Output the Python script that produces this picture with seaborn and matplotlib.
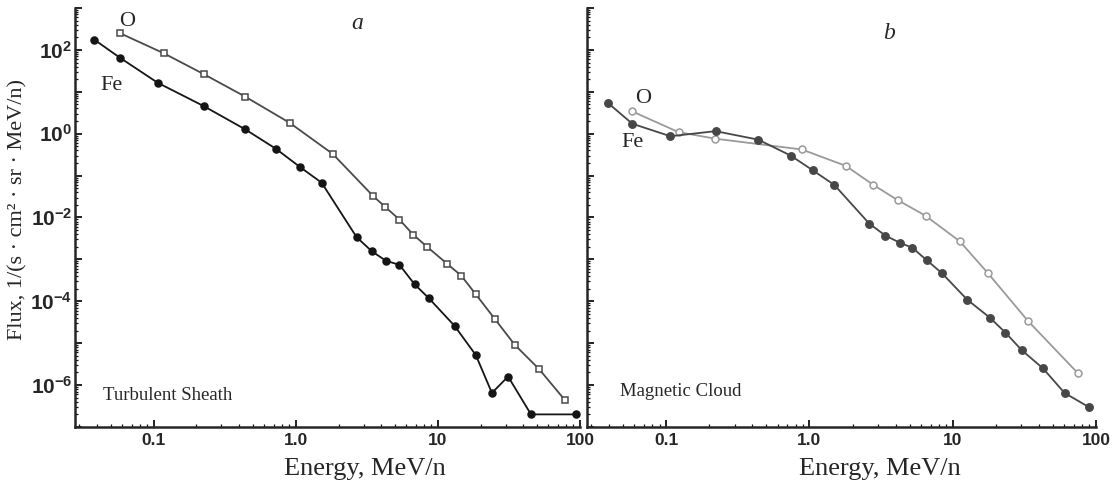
import numpy as np
import pandas as pd
import matplotlib
matplotlib.use('Agg')
import matplotlib.pyplot as plt
import matplotlib.ticker as mticker
import seaborn as sns

# energie (MeV/n) si flux
sheath_o_energy = [0.058, 0.118, 0.225, 0.443, 0.906, 1.82, 3.52, 4.27, 5.37, 6.70, 8.40,
                   11.6, 14.6, 18.4, 25.3, 34.8, 51.6, 78.7]
sheath_o_flux = [251, 83, 26.5, 7.6, 1.82, 0.33, 0.032, 0.0178, 0.0089, 0.0039, 0.0020,
                 7.9e-4, 4.1e-4, 1.5e-4, 3.7e-5, 9.1e-6, 2.4e-6, 4.3e-7]

sheath_fe_energy = [0.0384, 0.058, 0.107, 0.225, 0.443, 0.726, 1.08, 1.52, 2.68, 3.44, 4.31,
                    5.37, 6.85, 8.65, 13.1, 18.5, 24.0, 31.2, 45.2, 94]
sheath_fe_flux = [174, 65, 16.4, 4.57, 1.26, 0.436, 0.157, 0.068, 0.0034, 0.00155, 9.3e-4,
                  7.4e-4, 2.56e-4, 1.18e-4, 2.6e-5, 5.2e-6, 6.5e-7, 1.6e-6, 2.0e-7, 2.0e-7]

cloud_o_energy = [0.058, 0.122, 0.22, 0.885, 1.8, 2.79, 4.13, 6.46, 11.2, 17.6, 33.5, 75]
cloud_o_flux = [3.4, 1.09, 0.76, 0.42, 0.17, 0.060, 0.026, 0.011, 0.0027, 4.7e-4, 3.4e-5, 1.9e-6]

cloud_fe_energy = [0.039, 0.058, 0.107, 0.221, 0.44, 0.74, 1.05, 1.49, 2.62, 3.39, 4.27,
                   5.22, 6.6, 8.4, 12.6, 18.1, 23.3, 30.2, 42.7, 60.3, 89]
cloud_fe_flux = [5.5, 1.73, 0.87, 1.15, 0.72, 0.30, 0.135, 0.060, 0.0071, 0.0037, 0.0025,
                 0.0019, 9.5e-4, 4.7e-4, 1.1e-4, 4.1e-5, 1.8e-5, 6.9e-6, 2.5e-6, 6.5e-7, 3.0e-7]

x_ticks = [0.1, 1.0, 10, 100]
x_tick_labels = ['0.1', '1.0', '10', '100']

sns.set_style('ticks')
plt.rcParams['font.family'] = ['Liberation Serif', 'DejaVu Serif']
plt.rcParams['mathtext.fontset'] = 'custom'
plt.rcParams['mathtext.rm'] = 'Liberation Sans'
plt.rcParams['mathtext.bf'] = 'Liberation Sans:bold'

fig = plt.figure(figsize=(11.15, 4.86), dpi=100)
ax1 = fig.add_axes([75 / 1115, 59 / 486, 505 / 1115, 419 / 486])
ax2 = fig.add_axes([587 / 1115, 59 / 486, 509 / 1115, 419 / 486])

series = [
    (ax1, sheath_o_energy, sheath_o_flux, '#4a4a4a', 's', 'white', 4.3),
    (ax1, sheath_fe_energy, sheath_fe_flux, '#151515', 'o', '#151515', 5),
    (ax2, cloud_o_energy, cloud_o_flux, '#9a9a9a', 'o', 'white', 5),
    (ax2, cloud_fe_energy, cloud_fe_flux, '#474747', 'o', '#474747', 5.3),
]

for ax in (ax1, ax2):
    ax.set_xscale('log')
    ax.set_yscale('log')

for ax, en, fl, col, mk, face, ms in series:
    df = pd.DataFrame({'Energy': en, 'Flux': fl})
    sns.lineplot(data=df, x='Energy', y='Flux', ax=ax, sort=False, estimator=None,
                 color=col, lw=1.3, marker=mk, markersize=ms,
                 markerfacecolor=face, markeredgecolor=col, markeredgewidth=1.1)


def ylab(v, pos):
    e = int(round(np.log10(v)))
    if e % 2 == 0:
        return r'$\mathbf{10^{%d}}$' % e
    return ''


for ax in (ax1, ax2):
    ax.set_xlim(0.028, 100)
    ax.set_ylim(1e-7, 1e3)
    ax.spines['top'].set_visible(False)
    ax.spines['right'].set_visible(False)
    ax.spines['left'].set_linewidth(1.8)
    ax.spines['bottom'].set_linewidth(1.8)
    ax.set_xticks(x_ticks)
    ax.set_xticklabels(x_tick_labels, fontfamily='Liberation Sans', fontweight='bold', fontsize=12.5)
    ax.xaxis.set_minor_locator(mticker.LogLocator(base=10, subs=np.arange(2, 10), numticks=20))
    ax.xaxis.set_minor_formatter(mticker.NullFormatter())
    ax.yaxis.set_major_locator(mticker.LogLocator(base=10, numticks=20))
    ax.yaxis.set_minor_locator(mticker.LogLocator(base=10, subs=np.arange(2, 10), numticks=20))
    ax.yaxis.set_minor_formatter(mticker.NullFormatter())
    ax.tick_params(which='major', direction='in', length=5, width=1.3, pad=4, color='#111')
    ax.tick_params(which='minor', direction='in', length=2.5, width=0.9, color='#111')
    ax.set_xlabel('Energy, MeV/n', fontsize=19)
    ax.xaxis.set_label_coords(0.575, -0.075)
    ax.set_ylabel('')

ax1.yaxis.set_major_formatter(mticker.FuncFormatter(ylab))
ax1.tick_params(axis='y', which='major', labelsize=15, pad=2)
ax2.yaxis.set_major_formatter(mticker.NullFormatter())

ax1.set_ylabel('Flux, 1/(s · cm² · sr · MeV/n)', fontsize=16)
ax1.yaxis.set_label_coords(-0.095, 0.52)

ax1.text(0.558, 0.964, 'a', transform=ax1.transAxes, fontsize=17, style='italic', ha='center', va='center')
ax2.text(0.593, 0.940, 'b', transform=ax2.transAxes, fontsize=17, style='italic', ha='center', va='center')
ax1.text(0.103, 0.967, 'O', transform=ax1.transAxes, fontsize=16, ha='center', va='center')
ax1.text(0.073, 0.816, 'Fe', transform=ax1.transAxes, fontsize=16, ha='center', va='center')
ax2.text(0.110, 0.785, 'O', transform=ax2.transAxes, fontsize=16, ha='center', va='center')
ax2.text(0.090, 0.680, 'Fe', transform=ax2.transAxes, fontsize=16, ha='center', va='center')
ax1.text(0.055, 0.076, 'Turbulent Sheath', transform=ax1.transAxes, fontsize=13.5, ha='left', va='center')
ax2.text(0.065, 0.084, 'Magnetic Cloud', transform=ax2.transAxes, fontsize=13.5, ha='left', va='center')

fig.savefig('out.png', dpi=100)
